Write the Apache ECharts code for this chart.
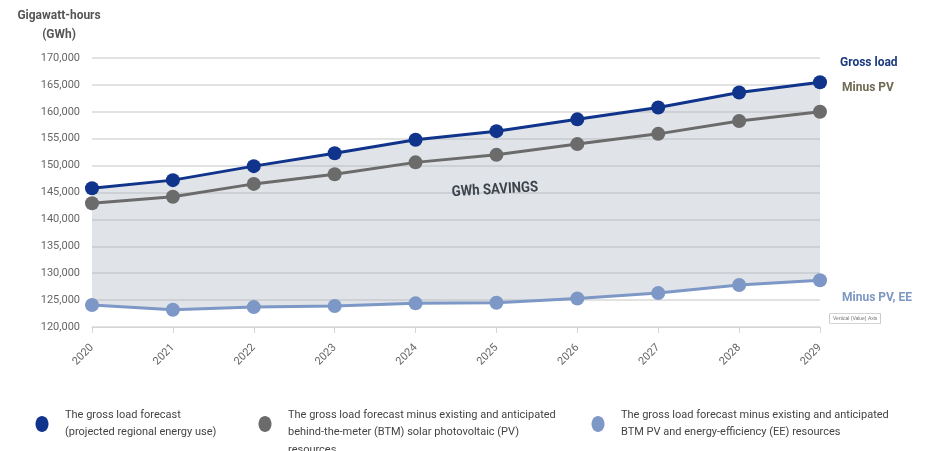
<!DOCTYPE html>
<html><head><meta charset="utf-8">
<script src="https://cdn.jsdelivr.net/npm/echarts@6/dist/echarts.min.js"></script>
<style>html,body{margin:0;padding:0;background:#fff}#c{width:928px;height:451px}</style>
</head><body><div id="c"></div>
<script>
const years = ['2020','2021','2022','2023','2024','2025','2026','2027','2028','2029'];
const grossLoad = [145800,147300,149900,152300,154800,156400,158600,160800,163600,165500];
const minusPV   = [143000,144200,146600,148400,150600,152000,154000,155900,158300,160000];
const minusPVEE = [124100,123200,123700,123900,124400,124500,125300,126300,127800,128700];
const yMin = 120000, yMax = 170000, yStep = 5000;
const endLabels = ['Gross load','Minus PV','Minus PV, EE'];
const legendTexts = [
  'The gross load forecast\n(projected regional energy use)',
  'The gross load forecast minus existing and anticipated\nbehind-the-meter (BTM) solar photovoltaic (PV)\nresources',
  'The gross load forecast minus existing and anticipated\nBTM PV and energy-efficiency (EE) resources'
];
const colors = ['#10338c','#6b6b6b','#7d98c6'];
const endLabelColors = ['#1b3a7e','#6f6a52','#7d97c4'];

const FONT = 'Roboto,"Liberation Sans",sans-serif';
const savings = grossLoad.map((v,i)=>v-minusPVEE[i]);

const chart = echarts.init(document.getElementById('c'), null, {renderer:'canvas'});

function lineSeries(name, data, idx, offset){
  return {
    name, type:'line', data, z:5,
    symbol:'circle', symbolSize:14,
    lineStyle:{color:colors[idx], width:3}, itemStyle:{color:colors[idx]},
    emphasis:{disabled:true},
    endLabel:{show:true, formatter:()=>endLabels[idx],
      color:endLabelColors[idx], fontFamily:FONT, fontWeight:'bold', fontSize:12, offset, distance:0}
  };
}

const legendGraphics = [];
const lx = [42, 265, 598];
legendTexts.forEach((t,i)=>{
  legendGraphics.push({type:'ellipse', z:100, shape:{cx:lx[i], cy:424, rx:6.5, ry:8}, style:{fill:colors[i]}});
  legendGraphics.push({type:'text', z:100, x:lx[i]+23, y:406, style:{text:t, fill:'#444', font:'11px '+FONT, lineHeight:17.5, textVerticalAlign:'top'}});
});

chart.setOption({
  animation:false,
  backgroundColor:'#fff',
  grid:{left:92, right:108, top:58, bottom:124, containLabel:false},
  xAxis:{
    type:'category', data:years, boundaryGap:false,
    axisLine:{show:true, lineStyle:{color:'#d6d6d6', width:1}},
    axisTick:{show:true, length:6, lineStyle:{color:'#d6d6d6'}},
    axisLabel:{rotate:45, color:'#666', fontFamily:FONT, fontSize:11, margin:19},
    splitLine:{show:false}
  },
  yAxis:{
    type:'value', min:yMin, max:yMax, interval:yStep,
    axisLine:{show:false}, axisTick:{show:false},
    axisLabel:{color:'#666', fontFamily:FONT, fontSize:11, margin:12,
      formatter:v=>v.toLocaleString('en-US')},
    splitLine:{lineStyle:{color:'#d8d8d8', width:1.5}}
  },
  series:[
    {name:'base', type:'line', stack:'band', data:minusPVEE, symbol:'none', silent:true,
     lineStyle:{opacity:0}, z:1},
    {name:'savings', type:'line', stack:'band', data:savings, symbol:'none', silent:true,
     lineStyle:{opacity:0}, areaStyle:{color:'rgba(170,178,190,0.52)'}, z:1},
    lineSeries('gross', grossLoad, 0, [20,-19]),
    lineSeries('minusPV', minusPV, 1, [22,-24]),
    lineSeries('minusPVEE', minusPVEE, 2, [22,18])
  ],
  graphic:[
    {type:'text', z:100, x:59, y:6, scaleX:0.92, style:{text:'Gigawatt-hours\n(GWh)', fill:'#555', font:'bold 13px '+FONT, lineHeight:19, textAlign:'center', textVerticalAlign:'top'}},
    {type:'text', z:100, x:495, y:190, rotation:0.06, scaleX:0.88, style:{text:'GWh SAVINGS', fill:'#3b434d', font:'bold 15px '+FONT, textAlign:'center', textVerticalAlign:'middle'}},
    {type:'text', z:100, x:830, y:314, style:{text:'Vertical (Value) Axis', fill:'#777', font:'5px sans-serif', backgroundColor:'#fff', borderColor:'#aaa', borderWidth:0.6, padding:[2,3]}},
    ...legendGraphics
  ]
});
</script></body></html>
